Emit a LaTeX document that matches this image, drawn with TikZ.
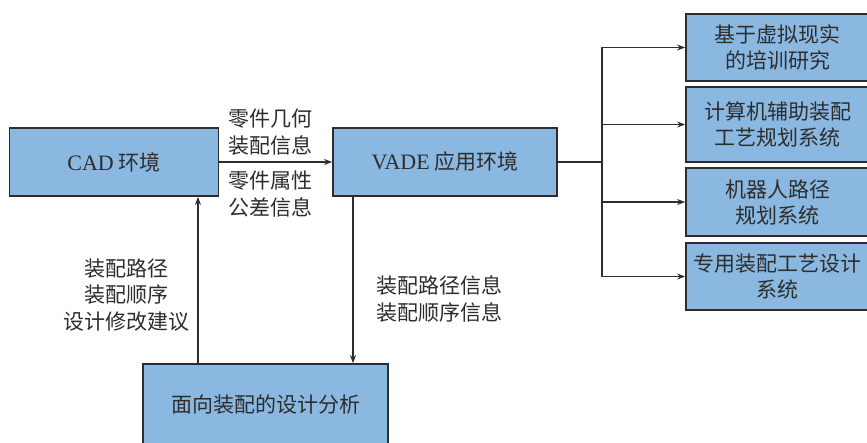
\documentclass[tikz,border=0pt]{standalone}
\usepackage{fontspec}
\setmainfont{Liberation Serif}
\newfontfamily\cjk{Noto Sans CJK SC}
\usetikzlibrary{arrows.meta}
\definecolor{boxblue}{RGB}{138,184,225}
\definecolor{ink}{RGB}{45,45,45}
\tikzset{
  box/.style={draw=ink, line width=1.8pt, fill=boxblue, text=ink, align=center,
    inner sep=0pt, font=\fontsize{21}{26}\selectfont\cjk},
  lbl/.style={text=ink, align=center, inner sep=0pt, font=\fontsize{21}{26.5}\selectfont\cjk},
  arr/.style={draw=ink, line width=1.1pt, -{Stealth[length=8pt,width=6pt]}},
  ln/.style={draw=ink, line width=1.1pt}
}
\begin{document}
\begin{tikzpicture}[x=1pt,y=-1pt]
\clip (0,0) rectangle (867,442);
\fill[white] (0,0) rectangle (867,442);
\node[box, minimum width=209pt, minimum height=68pt] (cad) at (114,162) {{\rmfamily\fontsize{22}{26}\selectfont CAD} 环境};
\node[box, minimum width=224pt, minimum height=68pt] (vade) at (445,162) {{\rmfamily\fontsize{22}{26}\selectfont VADE} 应用环境};
\node[box, minimum width=183pt, minimum height=67pt] (r1) at (777.5,47.5) {基于虚拟现实\\的培训研究};
\node[box, minimum width=183pt, minimum height=75pt] (r2) at (777.5,124.5) {计算机辅助装配\\工艺规划系统};
\node[box, minimum width=183pt, minimum height=68pt] (r3) at (777.5,202) {机器人路径\\规划系统};
\node[box, minimum width=183pt, minimum height=67pt] (r4) at (777.5,276.5) {专用装配工艺设计\\系统};
\node[box, minimum width=245pt, minimum height=82pt] (ana) at (265.5,405) {面向装配的设计分析};
\node[lbl] (l1) at (270,132) {零件几何\\装配信息};
\node[lbl] (l2) at (270,194) {零件属性\\公差信息};
\node[lbl] (l3) at (126,295) {装配路径\\装配顺序\\设计修改建议};
\node[lbl] (l4) at (439,299) {装配路径信息\\装配顺序信息};
\coordinate (j) at (602,162);
\draw[arr] (cad) -- (vade);
\draw[ln] (vade.east) -- (j);
\draw[arr] (j) |- (r1);
\draw[arr] (j) |- (r2);
\draw[arr] (j) |- (r3);
\draw[arr] (j) |- (r4);
\draw[arr] ([xshift=-67.5pt]ana.north) -- ([xshift=-67.5pt]ana.north |- cad.south);
\draw[arr] ([xshift=-92pt]vade.south) -- ([xshift=-92pt]vade.south |- ana.north);
\end{tikzpicture}
\end{document}
